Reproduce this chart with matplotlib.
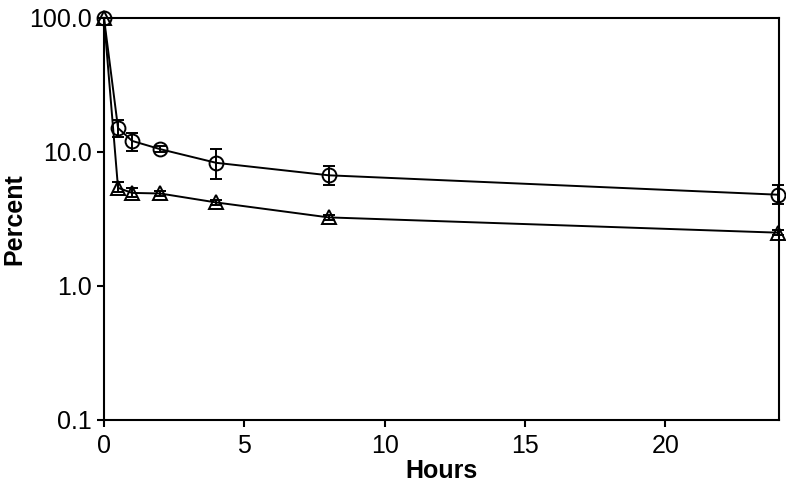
import matplotlib.pyplot as plt
from matplotlib.ticker import FixedLocator, FixedFormatter, NullLocator

plt.rcParams['font.family'] = ['Liberation Sans', 'DejaVu Sans']

hours = [0, 0.5, 1, 2, 4, 8, 24]

# circles
circ_vals = [100.0, 15.1, 12.1, 10.5, 8.3, 6.7, 4.8]
circ_err_lo = [0.0, 2.2, 1.9, 0.5, 2.0, 1.0, 0.7]
circ_err_hi = [0.0, 2.2, 1.8, 0.5, 2.2, 1.2, 0.9]

# triangles
tri_vals = [100.0, 5.4, 4.95, 4.9, 4.2, 3.25, 2.5]
tri_err_lo = [0.0, 0.4, 0.35, 0.2, 0.2, 0.15, 0.1]
tri_err_hi = [0.0, 0.6, 0.4, 0.2, 0.2, 0.15, 0.1]

y_ticks = [0.1, 1, 10, 100]
y_labels = ['0.1', '1.0', '10.0', '100.0']

fig = plt.figure(figsize=(7.86, 4.9), dpi=100)
ax = fig.add_axes([0.1323, 0.1429, 0.8588, 0.8204])

ax.errorbar(hours, circ_vals, yerr=[circ_err_lo, circ_err_hi], color='black',
            marker='o', markersize=10, markerfacecolor='none', markeredgewidth=1.4,
            linewidth=1.4, elinewidth=1.4, capsize=4.5, capthick=1.4, clip_on=False)
ax.errorbar(hours, tri_vals, yerr=[tri_err_lo, tri_err_hi], color='black',
            marker='^', markersize=10, markerfacecolor='none', markeredgewidth=1.4,
            linewidth=1.4, elinewidth=1.4, capsize=4.5, capthick=1.4, clip_on=False)

ax.set_yscale('log')
ax.set_ylim(0.1, 100)
ax.set_xlim(0, 24.05)
ax.yaxis.set_major_locator(FixedLocator(y_ticks))
ax.yaxis.set_major_formatter(FixedFormatter(y_labels))
ax.yaxis.set_minor_locator(NullLocator())
ax.set_xticks([0, 5, 10, 15, 20])

for s in ax.spines.values():
    s.set_linewidth(1.5)
ax.tick_params(direction='out', length=5, width=1.5, labelsize=18)
ax.tick_params(axis='x', pad=5)

ax.set_xlabel('Hours', fontsize=18, fontweight='bold', labelpad=1)
ax.set_ylabel('Percent', fontsize=18, fontweight='bold')
ax.yaxis.set_label_coords(-0.115, 0.5)

fig.savefig('out.png', dpi=100)
